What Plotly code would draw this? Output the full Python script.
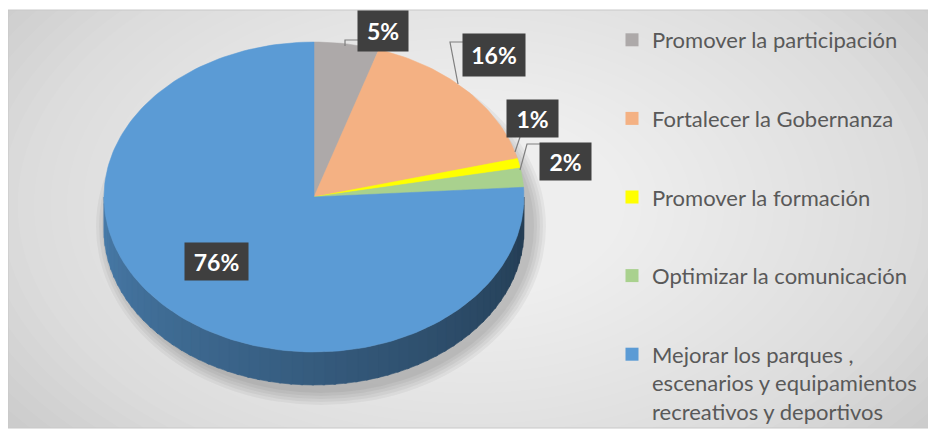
import math
import plotly.graph_objects as go

# ---------------- data ----------------
labels = [
    "Promover la participación",
    "Fortalecer la Gobernanza",
    "Promover la formación",
    "Optimizar la comunicación",
    "Mejorar los parques ,<br>escenarios y equipamientos<br>recreativos y deportivos",
]
values = [5, 16, 1, 2, 76]
pct_text = ["5%", "16%", "1%", "2%", "76%"]
colors = ["#ADA9A9", "#F4B183", "#FFFF00", "#A9D18E", "#5B9BD5"]

# ---------------- layout constants (page pixels) ----------------
W, H = 936, 433
OFF = 8                      # browser body margin
FW, FH = W - OFF, H - OFF    # figure size
CX, CY, RX, RY, DEPTH = 314, 197, 210, 155, 33
# label boxes: centre x, centre y, width, height
label_boxes = [(383, 31, 50, 40), (494, 55, 62, 42), (532, 118, 51, 37),
               (565, 161, 51, 37), (216, 261, 63, 37)]
leader_paths = ["M358,40 L345,40 L345,46",
                "M463,42 L450,42 L458,84",
                "M520,137 L515,152",
                "M540,144 L527,144 L520,170"]


def pt(theta_deg, dy=0.0):
    t = math.radians(theta_deg)
    return CX + RX * math.sin(t), CY - RY * math.cos(t) + dy


def hex_to_rgb(h):
    h = h.lstrip("#")
    return tuple(int(h[i:i + 2], 16) for i in (0, 2, 4))


total = sum(values)
bounds = []
acc = 0.0
for v in values:
    a0 = acc / total * 360.0
    acc += v
    a1 = acc / total * 360.0
    bounds.append((a0, a1))

fig = go.Figure()

# ---- 3D side of the pie (front half: 90..270 deg), shaded strips ----
for (a0, a1), col in zip(bounds, colors):
    s0, s1 = max(a0, 90.0), min(a1, 270.0)
    if s1 <= s0:
        continue
    n = max(1, int(math.ceil((s1 - s0) / 3.0)))
    step = (s1 - s0) / n
    r, g, b = hex_to_rgb(col)
    for k in range(n):
        t0 = s0 + k * step
        t1 = min(s1, t0 + step + 0.6)
        tm = (t0 + t1) / 2
        f = 0.80 - 0.42 * (270.0 - tm) / 180.0
        c = "rgb(%d,%d,%d)" % (r * f, g * f, b * f)
        top = [pt(t0 + (t1 - t0) * i / 6) for i in range(7)]
        bot = [pt(t1 - (t1 - t0) * i / 6, DEPTH) for i in range(7)]
        poly = top + bot + [top[0]]
        fig.add_trace(go.Scatter(
            x=[p[0] for p in poly], y=[p[1] for p in poly],
            mode="lines", fill="toself", fillcolor=c,
            line=dict(color=c, width=0.6), hoverinfo="skip", showlegend=False))

# ---- top faces ----
for (a0, a1), col, lab, v in zip(bounds, colors, labels, values):
    n = max(2, int(math.ceil((a1 - a0) / 1.5)))
    arc = [pt(a0 + (a1 - a0) * i / n) for i in range(n + 1)]
    poly = [(CX, CY)] + arc + [(CX, CY)]
    fig.add_trace(go.Scatter(
        x=[p[0] for p in poly], y=[p[1] for p in poly],
        mode="lines", fill="toself", fillcolor=col,
        line=dict(color=col, width=0.5),
        name=lab.replace("<br>", " "), text="%d%%" % v,
        hoverinfo="text+name", showlegend=False))

# ---- legend entries ----
for i, (lab, col) in enumerate(zip(labels, colors)):
    fig.add_trace(go.Scatter(
        x=[None], y=[None], mode="markers",
        marker=dict(symbol="square", size=13, color=col),
        name=lab, legendgroup="g%d" % i, showlegend=True))

# ---- background: radial gradient frame ----
shapes = [dict(type="rect", xref="x", yref="y", x0=8, y0=10, x1=929, y1=428,
               fillcolor="#B4B4B4", line=dict(width=0), layer="below")]
NL = 40
for k in range(NL):
    rx = 700 - k * 16.5
    ry = rx * 0.62
    shapes.append(dict(type="circle", xref="x", yref="y",
                       x0=470 - rx, x1=470 + rx, y0=205 - ry, y1=205 + ry,
                       fillcolor="rgba(255,255,255,0.055)", line=dict(width=0),
                       layer="below"))
# white outside frame
shapes += [
    dict(type="rect", xref="x", yref="y", x0=0, y0=0, x1=W + 5, y1=9.5,
         fillcolor="white", line=dict(width=0), layer="below"),
    dict(type="rect", xref="x", yref="y", x0=0, y0=428, x1=W + 5, y1=H + 5,
         fillcolor="white", line=dict(width=0), layer="below"),
    dict(type="rect", xref="x", yref="y", x0=929, y0=0, x1=W + 5, y1=H + 5,
         fillcolor="white", line=dict(width=0), layer="below"),
    dict(type="rect", xref="x", yref="y", x0=8, y0=10, x1=929, y1=428,
         fillcolor="rgba(0,0,0,0)", line=dict(color="#C8C8C8", width=1),
         layer="below"),
]
# soft shadow under the pie
for k in range(5):
    grow = 14 - k * 3
    shapes.append(dict(type="circle", xref="x", yref="y",
                       x0=CX - RX - grow + 6, x1=CX + RX + grow + 8,
                       y0=CY - RY + 20 - grow, y1=CY + RY + DEPTH + grow + 6,
                       fillcolor="rgba(0,0,0,0.045)", line=dict(width=0),
                       layer="below"))
# leader lines
for p in leader_paths:
    shapes.append(dict(type="path", xref="x", yref="y", path=p,
                       line=dict(color="#7F7F7F", width=1.2)))

annotations = []
for (bx, by, bw, bh), t in zip(label_boxes, pct_text):
    annotations.append(dict(
        x=bx, y=by, xref="x", yref="y", text=t, showarrow=False,
        bgcolor="#3F3F3F", width=bw, height=bh, borderpad=0,
        font=dict(family="Lato", size=23, color="white", weight="bold"),
        xanchor="center", yanchor="middle"))

fig.update_layout(
    width=FW, height=FH,
    margin=dict(l=0, r=0, t=0, b=0),
    paper_bgcolor="white", plot_bgcolor="rgba(0,0,0,0)",
    xaxis=dict(range=[OFF, W], visible=False, fixedrange=True),
    yaxis=dict(range=[H, OFF], visible=False, fixedrange=True),
    shapes=shapes, annotations=annotations,
    showlegend=True,
    legend=dict(x=(612 - OFF) / FW, y=1 - (20 - OFF) / FH,
                xanchor="left", yanchor="top",
                bgcolor="rgba(0,0,0,0)", valign="top",
                tracegroupgap=47, traceorder="grouped",
                font=dict(family="Lato", size=22, color="#595959")),
)

fig.write_html("out.html")
